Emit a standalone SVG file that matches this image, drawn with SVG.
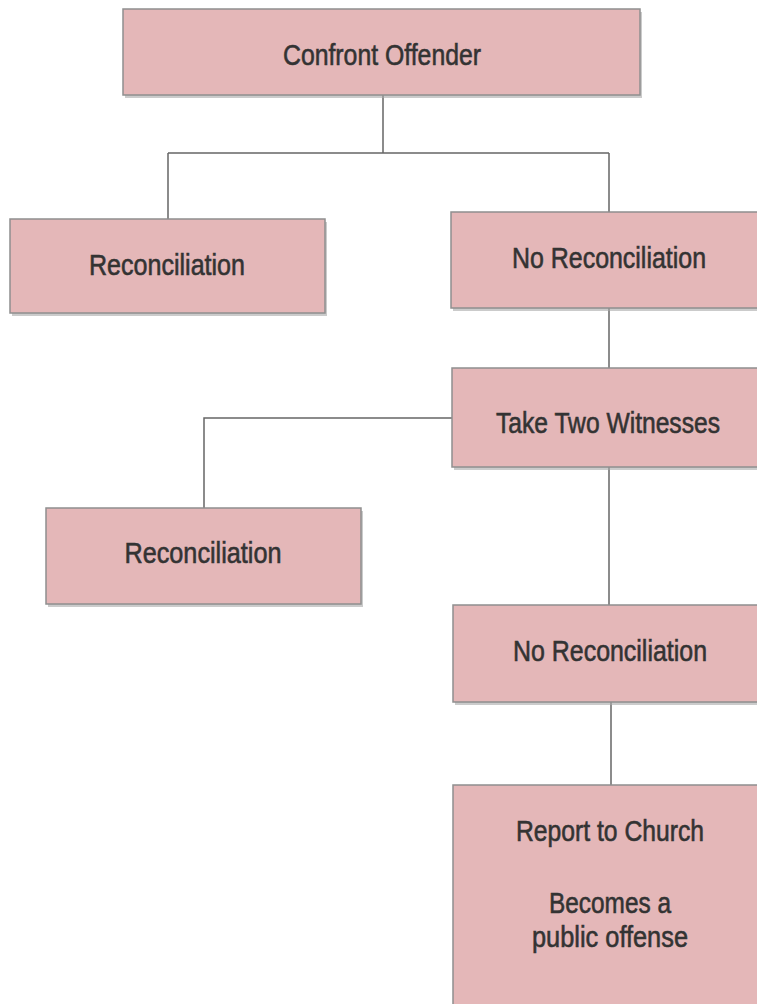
<svg xmlns="http://www.w3.org/2000/svg" width="757" height="1004" viewBox="0 0 757 1004">
<style>
.box{fill:#e4b7b8;stroke:#8f8f8f;stroke-width:1.5}
.sh{fill:#a8a8a8;opacity:0.6}
.t{font-family:"Liberation Sans",Arial,sans-serif;font-size:30px;fill:#333;stroke:#333;stroke-width:0.6;text-anchor:middle}
.c{fill:none;stroke:#666;stroke-width:1.5}
</style>
<rect width="757" height="1004" fill="#fff"/>
<g id="connectors">
<path class="c" d="M383 95V153M168 153H609M168 153V219M609 153V212"/>
<path class="c" d="M609 308V368"/>
<path class="c" d="M452 418H204V508"/>
<path class="c" d="M609 467V605"/>
<path class="c" d="M611 702V785"/>
</g>
<g id="n1"><rect class="sh" x="125" y="12" width="517" height="86"/><rect class="box" x="123" y="9" width="517" height="86"/><text class="t" x="382" y="65" textLength="198" lengthAdjust="spacingAndGlyphs">Confront Offender</text></g>
<g id="n2"><rect class="sh" x="12" y="222" width="315" height="94"/><rect class="box" x="10" y="219" width="315" height="94"/><text class="t" x="167" y="275" textLength="156" lengthAdjust="spacingAndGlyphs">Reconciliation</text></g>
<g id="n3"><rect class="sh" x="453" y="215" width="306" height="96"/><rect class="box" x="451" y="212" width="310" height="96"/><text class="t" x="609" y="268" textLength="194" lengthAdjust="spacingAndGlyphs">No Reconciliation</text></g>
<g id="n4"><rect class="sh" x="454" y="371" width="305" height="99"/><rect class="box" x="452" y="368" width="310" height="99"/><text class="t" x="608" y="433" textLength="224" lengthAdjust="spacingAndGlyphs">Take Two Witnesses</text></g>
<g id="n5"><rect class="sh" x="48" y="511" width="315" height="96"/><rect class="box" x="46" y="508" width="315" height="96"/><text class="t" x="203" y="563" textLength="157" lengthAdjust="spacingAndGlyphs">Reconciliation</text></g>
<g id="n6"><rect class="sh" x="455" y="608" width="304" height="97"/><rect class="box" x="453" y="605" width="310" height="97"/><text class="t" x="610" y="661" textLength="194" lengthAdjust="spacingAndGlyphs">No Reconciliation</text></g>
<g id="n7"><rect class="box" x="453" y="785" width="310" height="230"/>
<text class="t" x="610" y="841" textLength="188" lengthAdjust="spacingAndGlyphs">Report to Church</text>
<text class="t" x="610" y="913" textLength="122" lengthAdjust="spacingAndGlyphs">Becomes a</text>
<text class="t" x="610" y="947" textLength="156" lengthAdjust="spacingAndGlyphs">public offense</text></g>
</svg>
